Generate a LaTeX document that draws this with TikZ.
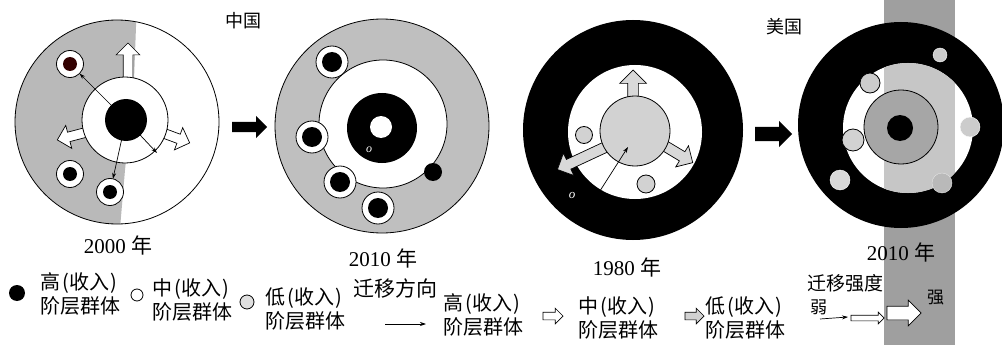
\documentclass[tikz,border=0pt]{standalone}
\usepackage{fontspec}
\setmainfont{Liberation Serif}
\newfontfamily\cjk{Noto Sans CJK SC}
\usetikzlibrary{shapes.arrows,arrows.meta}
\newcommand{\incomelab}[1]{#1\hspace{2pt}(\hspace{1pt}收入\hspace{1pt})\\阶层群体}
\begin{document}
\begin{tikzpicture}[x=1pt,y=-1pt,
  disc/.style={circle,inner sep=0pt,outer sep=0pt,minimum size=#1},
  edge/.style={draw=black,line width=0.8pt},
  hol/.style={single arrow,draw=black,line width=0.7pt,fill=white,inner xsep=0pt,anchor=tail,outer sep=0pt},
  thin/.style={-{Stealth[length=6pt,width=4pt]},line width=0.7pt},
  lab/.style={font=\cjk\fontsize{20}{24}\selectfont,align=left,anchor=west,inner sep=0pt},
  yr/.style={font=\fontsize{21}{24}\selectfont,inner sep=0pt}
]
\useasboundingbox (0,0) rectangle (1002,345);

% ================= China 2000 =================
\begin{scope}
  \clip (117,122) circle (102pt);
  \fill[gray!55] (0,0) -- (137,0) -- (134,80) -- (125,170) -- (119,240) -- (0,240) -- cycle;
\end{scope}
\node[disc=204pt,edge] (c0out) at (117,122) {};
\node[hol,fill=white,inner ysep=4.5pt,single arrow head extend=7pt,minimum height=42pt,rotate=90] (a0u) at (128,85) {};
\node[hol,fill=white,inner ysep=4.5pt,single arrow head extend=7pt,minimum height=39pt,rotate=194.7] (a0l) at (95,130) {};
\node[hol,fill=white,inner ysep=4.5pt,single arrow head extend=7pt,minimum height=37pt,rotate=-20.4] (a0r) at (155,130) {};
\node[disc=86pt,edge,fill=white] (c0in) at (125,120) {};
\node[disc=42pt,fill=black] (c0c) at (126,120) {};
\node[disc=27pt,edge,fill=white] (s0a) at (70,64) {};
\node[disc=14pt,fill=black!80!red] at (s0a) {};
\node[disc=27pt,edge,fill=white] (s0b) at (70,174) {};
\node[disc=14pt,fill=black] at (s0b) {};
\node[disc=27pt,edge,fill=white] (s0c) at (110,192) {};
\node[disc=14pt,fill=black] at (s0c) {};
\coordinate (e0r) at (157,153);
\draw[thin] (c0c.center) -- (s0a);
\draw[thin] (c0c.center) -- (s0c);
\draw[thin] (c0c.center) -- (e0r);
\node[yr] (y2000) at (118,245) {2000 {\cjk 年}};
\node[font=\cjk\fontsize{18}{20}\selectfont,inner sep=0pt] (cn) at (243,21) {中国};

% arrow China
\node[single arrow,fill=black,inner xsep=0pt,inner ysep=5pt,single arrow head extend=6pt,minimum height=35pt,anchor=tail] (bigc) at (232,127) {};

% ================= China 2010 =================
\node[disc=214pt,edge,fill=gray!50] (c1out) at (382,126) {};
\node[disc=128pt,edge,fill=white] (c1mid) at (383,124) {};
\node[disc=70pt,fill=black] (c1blk) at (382,128) {};
\node[disc=22pt,fill=white] (c1c) at (381,127) {};
\node[text=white,font=\itshape\fontsize{12}{12}\selectfont,inner sep=0pt] (o1) at (369,150) {o};
\foreach \n/\p in {s1a/{(332,62)},s1b/{(312,137)},s1c/{(340,182)},s1d/{(378,208)}}{
  \node[disc=32pt,edge,fill=white] (\n) at \p {};
  \node[disc=20pt,fill=black] at \p {};
}
\node[disc=18pt,fill=black] (s1e) at (433,172) {};
\node[yr] (y2010a) at (383,258) {2010 {\cjk 年}};

% ================= USA 1980 =================
\node[disc=220pt,fill=black] (u0out) at (633,130) {};
\node[disc=134pt,fill=white] (u0in) at (635,132) {};
\node[hol,fill=gray!30,inner ysep=5pt,single arrow head extend=8pt,minimum height=40pt,rotate=90] (u0au) at (633,110) {};
\node[hol,fill=gray!30,inner ysep=5pt,single arrow head extend=7pt,minimum height=58pt,rotate=205] (u0al) at (610,145) {};
\node[hol,fill=gray!30,inner ysep=5pt,single arrow head extend=7pt,minimum height=44pt,rotate=-31] (u0ar) at (655,140) {};
\node[disc=70pt,edge,fill=gray!35] (u0c) at (635,131) {};
\node[disc=17pt,edge,fill=gray!35] (u0s1) at (584,135) {};
\node[disc=18pt,edge,fill=gray!35] (u0s2) at (646,184) {};
\coordinate (t80) at (598,194);
\coordinate (t80e) at (628,147);
\draw[thin] (t80) -- (t80e);
\node[text=white,font=\itshape\fontsize{13}{13}\selectfont,inner sep=0pt] (o2) at (572,195) {o};
\node[yr] (y1980) at (627,267) {1980 {\cjk 年}};
\node[font=\cjk\fontsize{18}{20}\selectfont,inner sep=0pt] (us) at (784,27) {美国};

% arrow USA
\node[single arrow,fill=black,inner xsep=0pt,inner ysep=7pt,single arrow head extend=6pt,minimum height=37pt,anchor=tail] (bigu) at (755,134) {};

% ================= USA 2010 =================
\fill[gray!75] (884,0) rectangle (955,345);
\node[disc=206pt,fill=black] (u1out) at (901,125) {};
\node[disc=130pt,fill=white] (u1mid) at (908,128) {};
\begin{scope}
  \clip (908,128) circle (65pt);
  \fill[gray!45] (884,0) rectangle (955,345);
\end{scope}
\node[disc=74pt,edge,fill=gray!70] (u1in) at (901,127) {};
\node[disc=26pt,fill=black] (u1c) at (900,128) {};
\node[disc=14pt,fill=gray!40,draw=white] (u1s1) at (940,55) {};
\node[disc=20pt,edge,fill=gray!40] (u1s2) at (870,83) {};
\node[disc=22pt,edge,fill=gray!35] (u1s3) at (853,140) {};
\node[disc=20pt,fill=gray!30,draw=white] (u1s4) at (840,180) {};
\node[disc=20pt,fill=gray!40,draw=white] (u1s5) at (970,127) {};
\node[disc=20pt,fill=gray!55,draw=gray!20] (u1s6) at (942,183) {};
\node[yr] (y2010b) at (901,252) {2010 {\cjk 年}};

% ================= Legend =================
\node[disc=16pt,fill=black] (lg1) at (17,293) {};
\node[lab] (lt1) at (40,294) {\incomelab{高}};
\node[disc=12pt,draw=black,line width=0.8pt,fill=white] (lg2) at (137,295) {};
\node[lab] (lt2) at (152,300) {\incomelab{中}};
\node[disc=14pt,draw=black,line width=0.8pt,fill=gray!25] (lg3) at (247,302) {};
\node[lab] (lt3) at (265,309) {\incomelab{低}};
\node[font=\cjk\fontsize{21}{24}\selectfont,anchor=west,inner sep=0pt] (ld) at (353,288) {迁移方向};
\coordinate (la1) at (385,324);
\coordinate (la2) at (426,324);
\draw[thin] (la1) -- (la2);
\node[lab] (lt4) at (443,315) {\incomelab{高}};
\node[hol,fill=white,inner ysep=3.5pt,single arrow head extend=4pt,minimum height=20pt] (lh1) at (543,316) {};
\node[lab] (lt5) at (578,318) {\incomelab{中}};
\node[hol,fill=gray!35,inner ysep=3.5pt,single arrow head extend=4pt,minimum height=19pt] (lh2) at (685,316) {};
\node[lab] (lt6) at (705,318) {\incomelab{低}};
\node[font=\cjk\fontsize{19}{22}\selectfont,anchor=west,inner sep=0pt] (ls) at (807,283) {迁移强度};
\node[font=\cjk\fontsize{17}{20}\selectfont,anchor=west,inner sep=0pt] (lw) at (810,307) {弱};
\node[font=\cjk\fontsize{17}{20}\selectfont,anchor=west,inner sep=0pt] (lq) at (927,298) {强};
\coordinate (lb1) at (820,319);
\coordinate (lb2) at (848,317);
\draw[thin] (lb1) -- (lb2);
\node[hol,fill=white,inner ysep=2.5pt,single arrow head extend=3pt,minimum height=33pt] (lh3) at (851,318) {};
\node[hol,fill=white,inner ysep=6.5pt,single arrow head extend=6pt,minimum height=34pt] (lh4) at (887,313) {};
\end{tikzpicture}
\end{document}
